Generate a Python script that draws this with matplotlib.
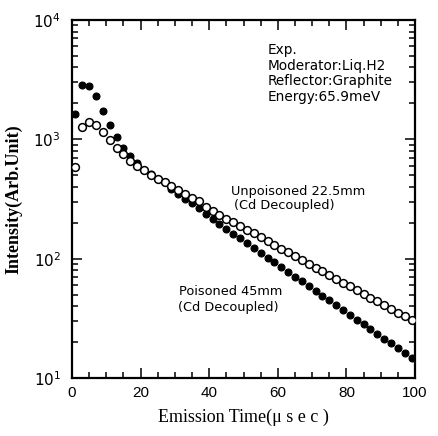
import matplotlib
matplotlib.use("Agg")
import matplotlib.pyplot as plt
from matplotlib.ticker import LogLocator, MultipleLocator, NullFormatter

# Emission time (microseconds)
time_us = [1, 3, 5, 7, 9, 11, 13, 15, 17, 19, 21, 23, 25, 27, 29, 31, 33, 35, 37, 39,
           41, 43, 45, 47, 49, 51, 53, 55, 57, 59, 61, 63, 65, 67, 69, 71, 73, 75, 77, 79,
           81, 83, 85, 87, 89, 91, 93, 95, 97, 99]

# Unpoisoned 22.5mm (open circles)
unpoisoned = [590, 1260, 1390, 1310, 1150, 980, 850, 750, 660, 603,
              550, 501, 468, 437, 407, 376, 347, 324, 302, 272,
              251, 233, 217, 202, 188, 175, 163, 151, 140, 131,
              121, 113, 105, 98, 91, 84, 78.5, 73, 68, 63,
              58.6, 54.6, 50.7, 47.2, 43.9, 40.7, 37.9, 35.2, 32.8, 30.5]

# Poisoned 45mm (filled circles)
poisoned = [1620, 2880, 2820, 2290, 1740, 1320, 1050, 850, 724, 631,
            550, 513, 468, 437, 380, 347, 316, 295, 266, 237,
            214, 195, 178, 162, 148, 135, 123, 112, 102, 93,
            85, 77.6, 70.8, 64.6, 58.9, 53.7, 49.0, 44.7, 40.7, 37.2,
            33.9, 30.9, 28.2, 25.7, 23.4, 21.4, 19.5, 17.8, 16.2, 14.8]

x_ticks = [0, 20, 40, 60, 80, 100]

fig = plt.figure(figsize=(4.38, 4.36), dpi=100)
ax = fig.add_axes([72/438, 1-378/436, (415-72)/438, (378-20)/436])

ax.plot(time_us, poisoned, linestyle='none', marker='o', markersize=5,
        markerfacecolor='black', markeredgecolor='black', markeredgewidth=0.8, zorder=3)
ax.plot(time_us, unpoisoned, linestyle='none', marker='o', markersize=5.6,
        markerfacecolor='white', markeredgecolor='black', markeredgewidth=1.1, zorder=4)

ax.set_yscale('log')
ax.set_xlim(0, 100)
ax.set_ylim(10, 1e4)
ax.set_xticks(x_ticks)
ax.xaxis.set_minor_locator(MultipleLocator(5))
ax.yaxis.set_minor_locator(LogLocator(base=10, subs=range(2, 10)))
ax.yaxis.set_minor_formatter(NullFormatter())

for s in ax.spines.values():
    s.set_linewidth(1.6)

ax.tick_params(which='both', direction='in', top=True, right=True, width=1.1)
ax.tick_params(which='major', length=7)
ax.tick_params(which='minor', length=4)
ax.tick_params(axis='x', which='major', labelsize=11, pad=6)
ax.tick_params(axis='y', which='major', labelsize=11, pad=8)
for lab in ax.get_xticklabels():
    lab.set_fontfamily('Liberation Sans')

ax.set_xlabel('Emission Time(\u03bc s e c )', fontfamily='Liberation Serif', fontsize=13, labelpad=6)
ax.set_ylabel('Intensity(Arb.Unit)', fontfamily='Liberation Serif', fontsize=13,
              fontweight='bold', labelpad=8)

def px(x, y):
    return (x / 438, 1 - y / 436)

info = 'Exp.\nModerator:Liq.H2\nReflector:Graphite\nEnergy:65.9meV'
fig.text(*px(268, 43), info, fontsize=9.8, fontfamily='DejaVu Sans',
         va='top', ha='left', linespacing=1.15)

lab_kw = dict(fontsize=9.3, fontfamily='DejaVu Sans', va='center')
fig.text(*px(231, 191), 'Unpoisoned 22.5mm', **lab_kw)
fig.text(*px(234, 206), '(Cd Decoupled)', **lab_kw)
fig.text(*px(179, 291), 'Poisoned 45mm', **lab_kw)
fig.text(*px(178, 308), '(Cd Decoupled)', **lab_kw)

fig.savefig('out.png', dpi=100)
